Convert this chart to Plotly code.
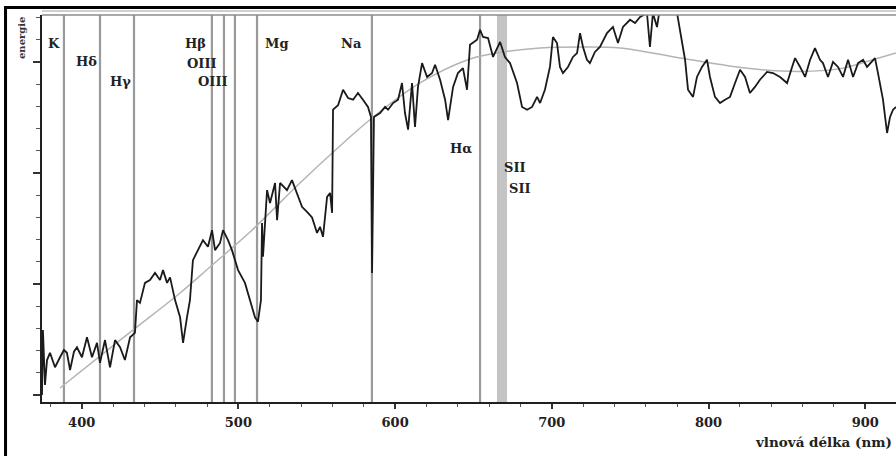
import plotly.graph_objects as go

# ---- data ----
wavelength_nm = [374.7, 375.3, 376.6, 377.9, 379.8, 383.0, 386.2, 388.7, 390.6, 392.6,
                 395.1, 397.0, 400.2, 403.4, 406.6, 409.8, 411.7, 414.9, 418.1, 421.3,
                 424.5, 427.6, 430.9, 434.0, 435.3, 437.2, 440.4, 443.6, 446.8, 450.0,
                 451.9, 454.5, 456.4, 459.6, 462.8, 464.7, 467.2, 469.1, 471.0, 474.2,
                 477.4, 480.6, 483.2, 485.1, 488.3, 490.2, 493.4, 495.9, 499.8, 504.2,
                 507.4, 510.6, 512.5, 514.4, 515.1, 515.7, 518.3, 520.2, 523.4, 524.7,
                 526.6, 531.0, 534.2, 537.4, 540.6, 543.8, 547.0, 550.2, 552.1, 554.0,
                 556.6, 558.5, 559.8, 560.4, 563.6, 566.8, 570.0, 573.2, 576.3, 579.5,
                 582.7, 584.6, 585.3, 586.5, 590.4, 593.6, 595.5, 598.7, 601.9, 604.4,
                 606.3, 608.3, 610.8, 612.7, 614.6, 617.2, 620.4, 623.6, 625.5, 628.7,
                 631.9, 633.8, 637.0, 640.1, 643.3, 645.9, 647.8, 652.3, 654.2, 656.1,
                 659.3, 662.5, 667.0, 670.1, 673.3, 677.8, 681.0, 684.2, 687.4, 690.6,
                 692.5, 695.6, 698.8, 700.7, 703.3, 705.2, 707.1, 710.3, 713.5, 716.1,
                 718.0, 719.9, 722.4, 724.3, 727.5, 730.7, 735.2, 739.0, 742.2, 745.4,
                 749.9, 753.1, 756.3, 760.7, 762.6, 764.5, 767.1, 769.0, 775.4, 779.9,
                 783.1, 785.0, 786.9, 790.1, 792.6, 795.8, 799.0, 800.9, 804.1, 807.3,
                 810.5, 813.7, 816.9, 820.1, 823.3, 826.4, 829.6, 832.8, 837.3, 841.1,
                 845.6, 850.1, 853.3, 855.2, 858.4, 861.6, 864.8, 867.9, 871.1, 873.0,
                 876.2, 879.4, 882.6, 885.8, 889.0, 892.2, 895.4, 898.6, 901.1, 904.3,
                 906.2, 908.1, 911.3, 913.9, 915.8, 917.7, 919.6]
energy = [0.0, 0.585, 0.09, 0.315, 0.38, 0.25, 0.34, 0.405, 0.38, 0.225,
          0.39, 0.43, 0.34, 0.52, 0.34, 0.47, 0.29, 0.495, 0.25, 0.495,
          0.43, 0.315, 0.52, 0.56, 0.855, 0.83, 1.01, 1.035, 1.10, 1.035,
          1.125, 1.01, 1.06, 0.855, 0.70, 0.47, 0.70, 0.855, 1.215, 1.305,
          1.395, 1.335, 1.485, 1.305, 1.37, 1.485, 1.395, 1.305, 1.125, 1.01,
          0.855, 0.70, 0.66, 0.855, 1.55, 1.245, 1.845, 1.73, 1.91, 1.575,
          1.91, 1.845, 1.935, 1.82, 1.695, 1.65, 1.60, 1.46, 1.515, 1.425,
          1.785, 1.82, 1.64, 2.57, 2.61, 2.75, 2.675, 2.66, 2.72, 2.66,
          2.595, 2.505, 1.10, 2.505, 2.54, 2.595, 2.57, 2.63, 2.66, 2.81,
          2.54, 2.39, 2.81, 2.415, 2.775, 2.99, 2.865, 2.90, 2.975, 2.84,
          2.66, 2.475, 2.775, 2.90, 2.945, 2.75, 3.155, 3.20, 3.29, 3.225,
          3.215, 3.045, 3.18, 3.045, 2.99, 2.81, 2.595, 2.57, 2.595, 2.685,
          2.63, 2.75, 2.955, 3.225, 3.17, 2.955, 2.90, 2.955, 3.045, 3.08,
          3.26, 3.135, 3.02, 2.99, 3.09, 3.135, 3.26, 3.315, 3.17, 3.315,
          3.38, 3.35, 3.405, 3.44, 3.135, 3.44, 3.315, 3.49, 3.49, 3.44,
          3.17, 3.02, 2.75, 2.685, 2.865, 2.955, 3.02, 2.865, 2.685, 2.63,
          2.66, 2.685, 2.81, 2.93, 2.865, 2.72, 2.775, 2.84, 2.91, 2.90,
          2.865, 2.81, 2.955, 3.035, 2.955, 2.865, 3.02, 3.125, 3.02, 2.99,
          2.865, 3.00, 2.955, 2.865, 3.02, 2.865, 2.99, 3.02, 2.955, 3.00,
          3.035, 2.90, 2.66, 2.36, 2.505, 2.57, 2.595]

fit_wavelength_nm = [386.2, 411.7, 435.3, 462.8, 481.9, 507.4, 539.3, 564.8, 585.3,
                     615.9, 647.8, 668.8, 692.5, 718.0, 743.5, 781.8, 826.4, 858.4,
                     884.0, 900.0, 919.6]
fit_energy = [0.063, 0.351, 0.613, 0.919, 1.153, 1.468, 1.910, 2.243, 2.495,
              2.811, 3.027, 3.09, 3.126, 3.135, 3.126, 3.036, 2.94, 2.915,
              2.94, 3.00, 3.08]

line_names = ["K", "Hδ", "Hγ", "Hβ", "OIII", "OIII", "Mg", "Na", "Hα", "SII", "SII"]
line_wavelength_nm = [388.7, 411.7, 433.4, 483.1, 490.8, 497.8, 511.9, 585.2, 654.2]
sii_band_nm = [665.0, 671.4]

x_tick_values = [400, 500, 600, 700, 800, 900]
x_tick_labels = ["400", "500", "600", "700", "800", "900"]
x_title = "vlnová délka (nm)"
y_title = "energie"

# ---- layout constants ----
X_RANGE = [374.7, 919.6]
Y_RANGE = [-0.063, 3.423]
FONT = "DejaVu Serif"
INK = "#1a1a1a"

# label placements (x center in nm, y in energy units)
label_pos = [(382.3, 3.17), (402.8, 3.00), (424.5, 2.82), (472.9, 3.17),
             (476.8, 2.99), (483.8, 2.82), (524.6, 3.17), (571.9, 3.17),
             (642.1, 2.225), (676.2, 2.045), (680.0, 1.856)]

fig = go.Figure()

fig.add_trace(go.Scatter(x=fit_wavelength_nm, y=fit_energy, mode="lines",
                         line=dict(color="#b4b4b4", width=1.5, shape="spline", smoothing=1.0),
                         hoverinfo="skip", showlegend=False))
fig.add_trace(go.Scatter(x=wavelength_nm, y=energy, mode="lines",
                         line=dict(color=INK, width=1.8),
                         hoverinfo="skip", showlegend=False))

shapes = []
for wl in line_wavelength_nm:
    shapes.append(dict(type="line", xref="x", yref="paper", x0=wl, x1=wl, y0=0, y1=1,
                       line=dict(color="#9a9a9a", width=2.2), layer="below"))
shapes.append(dict(type="rect", xref="x", yref="paper", x0=sii_band_nm[0], x1=sii_band_nm[1],
                   y0=0, y1=1, fillcolor="#c4c4c4", line=dict(width=0), layer="below"))
# top double line of the plot frame
shapes.append(dict(type="line", xref="paper", yref="paper", x0=0, x1=1, y0=1, y1=1,
                   line=dict(color="#8c8c8c", width=1.5)))
shapes.append(dict(type="line", xref="paper", yref="paper", x0=0, x1=1, y0=1.0103, y1=1.0103,
                   line=dict(color="#a0a0a0", width=1.2)))
# outer black frame (runs off the right and bottom edges)
shapes.append(dict(type="rect", xref="paper", yref="paper", x0=-0.0427, x1=1.1,
                   y0=-0.3, y1=1.0194, line=dict(color="#000000", width=3)))

annotations = []
for name, (lx, ly) in zip(line_names, label_pos):
    annotations.append(dict(x=lx, y=ly, xref="x", yref="y", text=name, showarrow=False,
                            xanchor="center", yanchor="middle",
                            font=dict(family=FONT, size=13, color="#222222", weight="bold")))
annotations.append(dict(x=-0.0234, y=0.9406, xref="paper", yref="paper", text=y_title,
                        textangle=-90, showarrow=False, xanchor="center", yanchor="middle",
                        font=dict(family=FONT, size=10, color="#333333", weight="bold")))
annotations.append(dict(x=0.998, y=-0.1034, xref="paper", yref="paper", text=x_title,
                        showarrow=False, xanchor="right", yanchor="middle",
                        font=dict(family=FONT, size=13.5, color="#222222", weight="bold")))

fig.update_layout(
    width=896, height=456,
    margin=dict(l=42, r=0, t=15, b=54),
    paper_bgcolor="white", plot_bgcolor="white",
    shapes=shapes, annotations=annotations,
    hovermode=False,
    xaxis=dict(range=X_RANGE, showgrid=False, zeroline=False,
               showline=True, linecolor="#202020", linewidth=2,
               tickmode="array", tickvals=x_tick_values, ticktext=x_tick_labels,
               ticks="outside", ticklen=5, tickwidth=1.5, tickcolor="#333333",
               ticklabelstandoff=2,
               tickfont=dict(family=FONT, size=13, color="#222222", weight="bold"),
               minor=dict(tickmode="linear", tick0=400, dtick=20, ticks="outside",
                          ticklen=3, tickwidth=1.2, tickcolor="#555555", showgrid=False)),
    yaxis=dict(range=Y_RANGE, showgrid=False, zeroline=False,
               showline=True, linecolor="#202020", linewidth=2,
               tick0=0, dtick=1, ticks="outside", ticklen=7, tickwidth=1.5,
               tickcolor="#333333", showticklabels=False,
               minor=dict(tick0=0, dtick=0.2, ticks="outside", ticklen=4,
                          tickwidth=1.2, tickcolor="#555555", showgrid=False)),
)

fig.write_html("out.html", config={"displayModeBar": False},
               post_script="document.body.style.margin='0';document.body.style.overflow='hidden';")
